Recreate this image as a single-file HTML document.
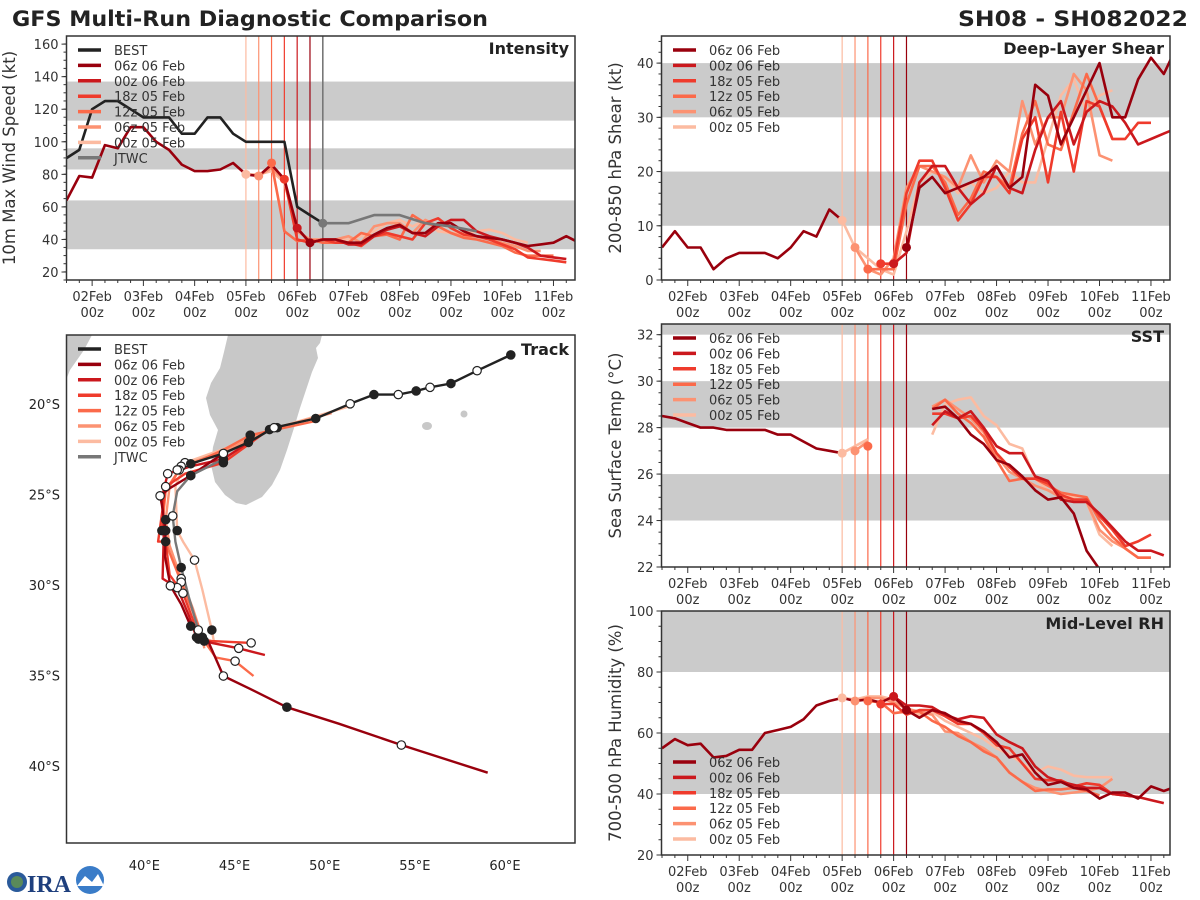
<!DOCTYPE html>
<html><head><meta charset="utf-8"><style>
html,body{margin:0;padding:0;background:#fff;}
svg{display:block;font-family:"DejaVu Sans","Liberation Sans",sans-serif;}
</style></head><body>
<svg id="chart" width="1200" height="900" viewBox="0 0 1200 900" xmlns="http://www.w3.org/2000/svg">
<text x="12" y="26" font-size="21" font-weight="bold" fill="#222" textLength="476" lengthAdjust="spacingAndGlyphs">GFS Multi-Run Diagnostic Comparison</text>
<text x="1188" y="26" font-size="21" font-weight="bold" fill="#222" text-anchor="end" textLength="230" lengthAdjust="spacingAndGlyphs">SH08 - SH082022</text>
<g id="logo">
<circle cx="17" cy="882" r="10" fill="#2a5a9a"/><circle cx="17" cy="882" r="6" fill="#5a8a5a"/>
<text x="27" y="892" font-size="24" font-weight="bold" fill="#1e3f7d" font-family="Liberation Serif,serif">IRA</text>
<circle cx="90" cy="880" r="14" fill="#3a7cc8"/><path d="M77 886 L85 876 L92 882 L98 874 L104 886 Z" fill="#fff"/>
</g>
</svg>
<script>
// ---------- data ----------
const runNames = ["06z 06 Feb","00z 06 Feb","18z 05 Feb","12z 05 Feb","06z 05 Feb","00z 05 Feb"];
const runColors = ["#99000d","#cb181d","#ef3b2c","#fb6a4a","#fc9272","#fcbba1"];
const runStarts = [5.25,5.0,4.75,4.5,4.25,4.0];
const dayLabels = ["02Feb","03Feb","04Feb","05Feb","06Feb","07Feb","08Feb","09Feb","10Feb","11Feb"];

// Intensity (kt)
const bestStart = 0.5;
const bestVmax = [90,95,120,125,125,120,115,115,115,105,105,115,115,105,100,100,100,100,60,55,50];
const jtwcTimes = [5.5,6,6.5,7,7.5,8,8.5];
const jtwcVmax = [50,50,55,55,50,48,45];
const histVmax = [64,79,78,98,96,109,109,100,95,86,82,82,83,87,80,79,86,77,47,38];
const vmax0606 = [38,40,40,38,38,43,47,49,44,44,50,50,45,42,41,40,38,36,37,38,42,38];
const vmax0006 = [47,38,40,40,37,37,42,46,48,44,42,48,52,52,45,42,40,38,35,30,29,28];
const vmax1805 = [77,40,38,40,38,38,36,42,44,42,40,50,53,47,43,42,40,37,34,29,28,27,26];
const vmax1205 = [87,45,39,40,38,38,38,44,42,43,40,55,50,48,44,41,40,38,36,32,30,30,30];
const vmax0605 = [79,84,76,45,40,40,40,42,38,48,50,50,44,52,48,44,42,42,40,38,36,33,33];
const vmax0005 = [80,80,82,75,45,40,40,40,40,42,45,50,52,48,52,45,44,44,45,46,44,40,38];

// Shear (kt)
const histShear = [6,9,6,6,2,4,5,5,5,4,6,9,8,13,11];
const shear0606 = [6,17,19,16,17,18,19,21,17,19,36,34,25,30,35,40,30,30,37,41,38,43];
const shear0006 = [3,5,18,21,21,17,14,16,21,17,16,24,30,33,25,31,33,32,29,25,26,27,28];
const shear1805 = [3,3,16,22,22,17,11,14,19,19,16,26,30,18,31,20,33,32,26,26,29,29];
const shear1205 = [2,2,2,14,21,21,18,12,15,20,19,17,27,33,25,24,31,38,32,26,26];
const shear0605 = [6,2,1,4,17,21,20,19,17,23,18,22,20,33,25,30,30,38,35,23,22];
const shear0005 = [11,6,4,2,1,9,18,20,19,16,18,16,17,20,18,18,26,34,37,31,34,35];

// SST (C)
const histSst = [28.5,28.4,28.2,28.0,28.0,27.9,27.9,27.9,27.9,27.7,27.7,27.4,27.1,27.0,26.9];
const sstEarly0605 = [27.0,27.4];
const sstEarly1205 = [27.2];
const sstEarly0005 = [26.9,27.2,27.5];
const sstLateStart = 5.75;
const sst0606 = [28.8,28.9,28.4,27.7,27.3,26.6,26.4,25.9,25.3,24.9,25.0,24.3,22.7,21.9];
const sst0006 = [28.1,28.7,28.4,28.7,28.0,27.2,26.9,26.9,25.9,25.7,24.9,24.8,24.8,24.3,23.7,23.1,22.7,22.7,22.5];
const sst1805 = [28.6,28.6,28.4,28.5,27.9,26.9,26.3,25.8,25.8,25.6,25.1,24.9,24.9,24.2,23.6,22.9,23.1,23.4];
const sst1205 = [28.8,29.2,28.6,28.2,27.6,26.6,25.7,25.8,25.8,25.5,25.2,25.1,25.0,24.0,23.3,22.8,22.4,22.4];
const sst0605 = [28.9,29.2,28.8,28.4,27.8,26.8,26.1,25.8,25.5,25.3,25.0,24.9,24.8,23.6,23.1,22.8,22.4,22.4];
const sst0005 = [27.7,29.0,29.2,29.3,28.5,28.1,27.3,27.1,25.8,25.3,25.2,25.0,24.8,23.4,22.9];

// RH (%)
const histRh = [55,58,56,56.5,52,52.5,54.5,54.5,60,61,62,64.5,69,70.5,71.5,70.5,71,70,72,67.5];
const rh0606 = [67.5,65,67.5,66.5,64,63,60.5,57,52,53,47,43,44,42,41.5,38.5,40.5,40.5,38.5,42.5,41,42.5];
const rh0006 = [72,69,69,68.5,66,64.5,65.5,65,59.5,57,55,49,45.5,44,43,42,42,40,39.5,39,38,37];
const rh1805 = [69.5,69.5,66,67.5,67.5,65.5,63,63,60,56,55,50,45,44.5,44.5,42.5,43.5,43,40,39.5,39];
const rh1205 = [70.5,70,66.5,67,67,64,62,59,57,54,52,47,44,41,41.5,41.5,42,41,39.5];
const rh0605 = [70.5,71.5,71.5,70,68,67,66,60.5,60,57,55,52,47,44,42,41,40,40.5,41,42,45];
const rh0005 = [71.5,71,72,72,71,68,66,67,64,62,60,58,55,53,50,47,49,48,46,45.5,45.5,45.5];

// Track (lon E, lat)
const bestLon = [60.32,58.45,57.00,55.84,55.07,54.08,52.73,51.41,49.50,47.19,45.77,44.38,42.57,41.82];
const bestLat = [-17.30,-18.17,-18.88,-19.09,-19.29,-19.49,-19.49,-20.00,-20.81,-21.32,-22.13,-22.74,-23.31,-23.65];
const jtwcLon = [44.38,42.57,41.82,41.57,41.72,42.04,42.46,42.99];
const jtwcLat = [-23.05,-23.96,-24.83,-26.19,-27.61,-29.04,-30.66,-32.49];
const trk0606Lon = [44.38,42.57,41.40,40.87,40.97,41.18,41.14,41.44,42.04,42.57,43.53,44.38,45.87,47.90,50.78,54.25,59.04];
const trk0606Lat = [-22.74,-23.96,-24.67,-25.08,-25.58,-27.00,-28.43,-30.05,-31.07,-32.28,-33.10,-35.03,-35.74,-36.75,-37.66,-38.84,-40.37];
const trk0006Lon = [45.77,44.38,42.57,41.29,40.97,41.08,41.01,41.82,42.46,42.89,43.74,45.23,46.68];
const trk0006Lat = [-22.13,-23.05,-23.45,-23.86,-25.18,-27.00,-29.65,-30.15,-31.68,-32.89,-33.20,-33.50,-33.87];
const trk1805Lon = [47.19,44.38,42.25,41.18,40.76,41.18,41.40,42.14,42.68,43.00,43.74,45.92];
const trk1805Lat = [-21.22,-23.25,-23.86,-24.57,-27.61,-27.61,-29.44,-30.46,-31.88,-32.99,-33.10,-33.20];
const trk1205Lon = [49.50,45.87,44.38,41.93,41.18,40.97,41.40,42.04,42.68,43.32,43.96,45.03,46.05];
const trk1205Lat = [-20.95,-21.73,-22.54,-23.65,-24.77,-27.00,-28.22,-29.85,-31.47,-33.10,-34.01,-34.21,-35.03];
const trk0605Lon = [50.39,46.94,44.60,42.04,41.40,41.18,41.40,42.04,42.68,43.21,43.32];
const trk0605Lat = [-20.51,-21.42,-22.54,-23.45,-24.57,-26.40,-27.82,-29.65,-31.27,-32.89,-33.50];
const trk0005Lon = [51.37,47.36,44.81,42.25,41.72,41.82,42.14,42.78,43.21,43.74,43.85];
const trk0005Lat = [-20.14,-21.32,-22.34,-23.25,-24.57,-27.00,-27.61,-28.63,-30.25,-32.49,-33.10];
const latTicks = [-20,-25,-30,-35,-40];
const lonTicks = [40,45,50,55,60];

// ---------- helpers ----------
const NS = "http://www.w3.org/2000/svg";
const svg = document.getElementById("chart");
function el(tag, attrs, parent){
  const e = document.createElementNS(NS, tag);
  for (const k in attrs) e.setAttribute(k, attrs[k]);
  (parent||svg).appendChild(e);
  return e;
}
let clipId = 0;

function timePanel(cfg){
  const g = el("g", {});
  
  
  const {x0,x1,y0,y1,t0,t1,v0,v1} = cfg;
  const X = t => x0 + (t - t0) / (t1 - t0) * (x1 - x0);
  const Y = v => y1 - (v - v0) / (v1 - v0) * (y1 - y0);
  const cid = "clip" + (clipId++);
  const cp = el("clipPath", {id: cid}, g);
  el("rect", {x: x0, y: y0, width: x1 - x0, height: y1 - y0}, cp);
  const inner = el("g", {"clip-path": "url(#" + cid + ")"}, g);
  cfg.bands.forEach(b => {
    const r = el("rect", {x: x0, y: Y(b[1]), width: x1 - x0, height: Y(b[0]) - Y(b[1]), fill: "#cbcbcb"}, inner);
    
    
  });
  runStarts.forEach((t, i) => {
    const l = el("line", {x1: X(t), x2: X(t), y1: y0, y2: y1, stroke: runColors[i], "stroke-width": 1.2}, inner);
    
    
  });
  if (cfg.jtwcLine) {
    const l = el("line", {x1: X(cfg.jtwcLine), x2: X(cfg.jtwcLine), y1: y0, y2: y1, stroke: "#777", "stroke-width": 1.6}, inner);
    
    
  }
  function line(start, vals, color, name, times){
    const pts = vals.map((v, i) => X(times ? times[i] : start + i * 0.25).toFixed(1) + "," + Y(v).toFixed(1)).join(" ");
    const p = el("polyline", {points: pts, fill: "none", stroke: color, "stroke-width": 2.6, "stroke-linejoin": "round"}, inner);
    
    
  }
  cfg.series.slice().reverse().forEach(s => line(s.start, s.vals, s.color, s.name, s.times));
  (cfg.dots || []).forEach(d => {
    const c = el("circle", {cx: X(d.t), cy: Y(d.v), r: 4.5, fill: d.color}, inner);
    
    
  });
  el("rect", {x: x0, y: y0, width: x1 - x0, height: y1 - y0, fill: "none", stroke: "#333", "stroke-width": 1.5}, g);
  cfg.yTicks.forEach(v => {
    el("line", {x1: x0 - 5, x2: x0, y1: Y(v), y2: Y(v), stroke: "#333"}, g);
    const t = el("text", {x: x0 - 8, y: Y(v) + 5, "font-size": 13, "text-anchor": "end", fill: "#333"}, g);
    t.textContent = v;
    
    
  });
  for (let v = v0; v <= v1; v += cfg.yMinor) {
    el("line", {x1: x0 - 3, x2: x0, y1: Y(v), y2: Y(v), stroke: "#333"}, g);
  }
  for (let t = Math.ceil(t0 * 4) / 4; t <= t1; t += 0.25) {
    const major = Math.abs(t - Math.round(t)) < 1e-6;
    el("line", {x1: X(t), x2: X(t), y1: y1, y2: y1 + (major ? 6 : 3), stroke: "#333"}, g);
  }
  dayLabels.forEach((lab, i) => {
    const tx = X(i + 1);
    const a = el("text", {x: tx, y: y1 + 21, "font-size": 13, "text-anchor": "middle", fill: "#333"}, g);
    a.textContent = lab;
    
    
    const b = el("text", {x: tx, y: y1 + 37, "font-size": 13, "text-anchor": "middle", fill: "#333"}, g);
    b.textContent = "00z";
    
    
  });
  const yl = el("text", {x: 0, y: 0, "font-size": 16.5, "text-anchor": "middle", fill: "#333", transform: "translate(" + cfg.ylabelX + "," + ((y0 + y1) / 2) + ") rotate(-90)"}, g);
  yl.textContent = cfg.ylabel;
  
  
  const tt = el("text", {x: x1 - 6, y: y0 + 18, "font-size": 16, "font-weight": "bold", "text-anchor": "end", fill: "#222"}, g);
  tt.textContent = cfg.title;
  
  
  legend(g, cfg.legX, cfg.legY, cfg.legend);
}

function legend(g, lx, ly, entries){
  const lg = el("g", {}, g);
  
  
  entries.forEach((e, i) => {
    const y = ly + i * 15.4;
    el("line", {x1: lx, x2: lx + 23, y1: y, y2: y, stroke: e[1], "stroke-width": 3.5}, lg);
    const t = el("text", {x: lx + 36, y: y + 5, "font-size": 13, fill: "#333"}, lg);
    t.textContent = e[0];
    
    
  });
}

const runLegend = runNames.map((n, i) => [n, runColors[i]]);
const fullLegend = [["BEST", "#222"]].concat(runLegend, [["JTWC", "#777"]]);

function runSeries(arrs, prefix){
  return arrs.map((a, i) => ({start: runStarts[i], vals: a, color: runColors[i], name: prefix + "-" + runNames[i].replace(/ /g, "-").toLowerCase()}));
}
function runDots(arrs){
  return arrs.map((a, i) => ({t: runStarts[i], v: a[0], color: runColors[i]}));
}

const intRuns = [vmax0606, vmax0006, vmax1805, vmax1205, vmax0605, vmax0005];
timePanel({name: "intensity-panel", x0: 66.5, x1: 575, y0: 36, y1: 280, t0: 0.5, t1: 10.42, v0: 15.1, v1: 165,
  bands: [[34, 64], [83, 96], [113, 137]], yTicks: [20,40,60,80,100,120,140,160], yMinor: 5,
  ylabel: "10m Max Wind Speed (kt)", ylabelX: 15, title: "Intensity", jtwcLine: 5.5,
  series: [{start: bestStart, vals: bestVmax, color: "#222", name: "best-intensity-line"},
           {start: 0, vals: jtwcVmax, times: jtwcTimes, color: "#777", name: "jtwc-intensity-line"},
           {start: 0.5, vals: histVmax, color: runColors[0], name: "analysis-intensity-line"}].concat(runSeries(intRuns, "intensity")),
  dots: runDots(intRuns).concat([{t: jtwcTimes[0], v: jtwcVmax[0], color: "#777"}]),
  legX: 78, legY: 50, legend: fullLegend});

const shrRuns = [shear0606, shear0006, shear1805, shear1205, shear0605, shear0005];
timePanel({name: "shear-panel", x0: 661.5, x1: 1170, y0: 36, y1: 280, t0: 0.49, t1: 10.37, v0: 0, v1: 45,
  bands: [[10, 20], [30, 40]], yTicks: [0,10,20,30,40], yMinor: 2,
  ylabel: "200-850 hPa Shear (kt)", ylabelX: 621, title: "Deep-Layer Shear",
  series: [{start: 0.5, vals: histShear, color: runColors[0], name: "analysis-shear-line"}].concat(runSeries(shrRuns, "shear")),
  dots: runDots(shrRuns), legX: 673, legY: 50, legend: runLegend});

const sstRuns = [sst0606, sst0006, sst1805, sst1205, sst0605, sst0005];
const sstSeries = [{start: 0.5, vals: histSst, color: runColors[0], name: "analysis-sst-line"},
  {start: 4.25, vals: sstEarly0605, color: runColors[4], name: "sst-early-0605"},
  {start: 4.5, vals: sstEarly1205, color: runColors[3], name: "sst-early-1205"},
  {start: 4.0, vals: sstEarly0005, color: runColors[5], name: "sst-early-0005"}].concat(
  sstRuns.map((a, i) => ({start: sstLateStart, vals: a, color: runColors[i], name: "sst-" + runNames[i].replace(/ /g, "-").toLowerCase()})));
timePanel({name: "sst-panel", x0: 661.5, x1: 1170, y0: 324, y1: 567, t0: 0.49, t1: 10.37, v0: 22, v1: 32.46,
  bands: [[24, 26], [28, 30], [32, 33]], yTicks: [22,24,26,28,30,32], yMinor: 0.5,
  ylabel: "Sea Surface Temp (°C)", ylabelX: 621, title: "SST", series: sstSeries,
  dots: [{t: 4.0, v: sstEarly0005[0], color: runColors[5]}, {t: 4.25, v: sstEarly0605[0], color: runColors[4]}, {t: 4.5, v: sstEarly1205[0], color: runColors[3]}],
  legX: 673, legY: 338, legend: runLegend});

const rhRuns = [rh0606, rh0006, rh1805, rh1205, rh0605, rh0005];
timePanel({name: "rh-panel", x0: 661.5, x1: 1170, y0: 611, y1: 855, t0: 0.49, t1: 10.37, v0: 20, v1: 100,
  bands: [[40, 60], [80, 100]], yTicks: [20,40,60,80,100], yMinor: 5,
  ylabel: "700-500 hPa Humidity (%)", ylabelX: 621, title: "Mid-Level RH",
  series: [{start: 0.5, vals: histRh, color: runColors[0], name: "analysis-rh-line"}].concat(runSeries(rhRuns, "rh")),
  dots: runDots(rhRuns), legX: 673, legY: 762, legend: runLegend});

// ---------- Track ----------
(function(){
  const x0 = 66.5, x1 = 575, y0 = 335, y1 = 843;
  const lonMin = 35.68, lonMax = 63.88, latMax = -16.2, latMin = -44.25;
  const X = lon => x0 + (lon - lonMin) / (lonMax - lonMin) * (x1 - x0);
  const Y = lat => y0 + (latMax - lat) / (latMax - latMin) * (y1 - y0);
  const g = el("g", {});
  
  
  const cp = el("clipPath", {id: "trackclip"}, g);
  el("rect", {x: x0, y: y0, width: x1 - x0, height: y1 - y0}, cp);
  const inner = el("g", {"clip-path": "url(#trackclip)"}, g);
  const mad = el("path", {d: "M228 335 L322 335 L320 343 L316 348 L318 358 L312 372 L306 390 L300 408 L294 428 L287 450 L280 470 L272 485 L262 497 L246 505 L236 503 L225 495 L215 482 L211 465 L213 447 L218 430 L210 415 L206 398 L211 383 L220 368 L224 352 Z", fill: "#c8c8c8"}, inner);
  
  
  const af = el("path", {d: "M66 335 L92 335 L84 350 L70 370 L66 380 Z", fill: "#c8c8c8"}, inner);
  
  
  const reu = el("ellipse", {cx: 427, cy: 426, rx: 5, ry: 4, fill: "#c8c8c8"}, inner);
  
  
  const mau = el("ellipse", {cx: 464, cy: 414, rx: 3.5, ry: 3.5, fill: "#c8c8c8"}, inner);
  
  

  const tracks = [
    [trk0005Lon, trk0005Lat, runColors[5], "track-00z-05-feb"],
    [trk0605Lon, trk0605Lat, runColors[4], "track-06z-05-feb"],
    [trk1205Lon, trk1205Lat, runColors[3], "track-12z-05-feb"],
    [trk1805Lon, trk1805Lat, runColors[2], "track-18z-05-feb"],
    [trk0006Lon, trk0006Lat, runColors[1], "track-00z-06-feb"],
    [trk0606Lon, trk0606Lat, runColors[0], "track-06z-06-feb"],
    [jtwcLon, jtwcLat, "#777", "track-jtwc"],
    [bestLon, bestLat, "#222", "track-best"]
  ];
  tracks.forEach(tr => {
    const pts = tr[0].map((lo, i) => X(lo).toFixed(1) + "," + Y(tr[1][i]).toFixed(1)).join(" ");
    const p = el("polyline", {points: pts, fill: "none", stroke: tr[2], "stroke-width": 2.4, "stroke-linejoin": "round"}, inner);
    
    
  });
  tracks.forEach((tr, k) => {
    const step = k === 7 ? 1 : 2;
    for (let i = (k === 7 ? 0 : 1); i < tr[0].length; i += step) {
      const filled = (Math.floor(i / step) % 2 === 0);
      const c = el("circle", {cx: X(tr[0][i]), cy: Y(tr[1][i]), r: 4.2, fill: filled ? "#222" : "#fff", stroke: "#222", "stroke-width": 1.2}, inner);
      
      
    }
  });
  el("rect", {x: x0, y: y0, width: x1 - x0, height: y1 - y0, fill: "none", stroke: "#333", "stroke-width": 1.5}, g);
  latTicks.forEach(la => {
    const t = el("text", {x: 60, y: Y(la) + 5, "font-size": 13, "text-anchor": "end", fill: "#222"}, g);
    t.textContent = Math.abs(la) + "°S";
    
    
  });
  lonTicks.forEach(lo => {
    const t = el("text", {x: X(lo), y: 870, "font-size": 13, "text-anchor": "middle", fill: "#222"}, g);
    t.textContent = lo + "°E";
    
    
  });
  const tt = el("text", {x: x1 - 6, y: y0 + 20, "font-size": 16, "font-weight": "bold", "text-anchor": "end", fill: "#222"}, g);
  tt.textContent = "Track";
  
  
  legend(g, 78, 349, fullLegend);
})();
</script>
</body></html>
